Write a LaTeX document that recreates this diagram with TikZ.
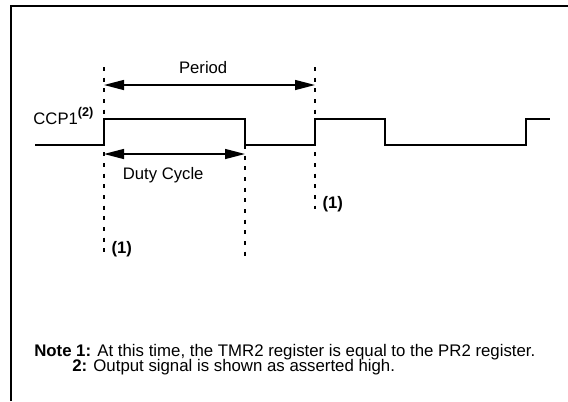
\documentclass[tikz,border=0pt]{standalone}
\usepackage{fontspec}
\setmainfont{Liberation Sans}
\usetikzlibrary{arrows.meta, positioning, calc}
\newcommand{\supmark}[1]{\raisebox{0.45em}{\fontsize{9.5}{10}\selectfont\bfseries #1}}
\tikzset{
  signal/.style={
    line width=1.5pt*0.75
  },
  marker/.style={
    dashed, dash pattern=on 3pt off 5pt,
    line width=1.3pt*0.75
  },
  dimarrow/.style={
    {Triangle[length=15pt, width=7.5pt]}-{Triangle[length=15pt, width=7.5pt]},
    line width=1.4pt*0.75
  },
  lbl/.style={
    font=\fontsize{12.5}{14}\selectfont,
    inner sep=1pt
  },
  marklbl/.style={
    lbl, anchor=west,
    font=\fontsize{12.5}{14}\selectfont\bfseries
  },
  notetext/.style={
    font=\fontsize{12.6}{14}\selectfont,
    inner sep=0pt, anchor=base west
  }
}
\begin{document}
\begin{tikzpicture}[x=0.75pt, y=-0.75pt]

%------------------------------------------------------
% FRAME
%------------------------------------------------------
\useasboundingbox (0,0) rectangle (568,401);
\draw[line width=1.6pt*0.75] (11,401) -- (11,6) -- (568,6);

%------------------------------------------------------
% MARKER LINES (dashed)
%------------------------------------------------------
\coordinate (riseTop)  at (104,67);
\coordinate (riseBot)  at (104,255);
\coordinate (fallTop)  at (245,145);
\coordinate (fallBot)  at (245,260);
\coordinate (nextTop)  at (315,67);
\coordinate (nextBot)  at (315,209);

\draw[marker] (riseTop) -- (riseBot);
\draw[marker] (fallTop) -- (fallBot);
\draw[marker] (nextTop) -- (nextBot);

%------------------------------------------------------
% CCP1 WAVEFORM
%------------------------------------------------------
\node[lbl, anchor=base east] (ccp) at (95,124) {CCP1\supmark{(2)}};
\draw[signal] (35,145) -- (104,145) -- (104,119) -- (245,119) -- (245,145)
  -- (315,145) -- (315,119) -- (385,119) -- (385,145) -- (526,145)
  -- (526,119) -- (550,119);

%------------------------------------------------------
% PERIOD / DUTY CYCLE
%------------------------------------------------------
\coordinate (perL) at (104,85);
\coordinate (perR) at (315,85);
\coordinate (dutL) at (104,154);
\coordinate (dutR) at (245,154);

\draw[dimarrow] (perL) -- (perR);
\node[lbl, above=7pt of $(perL)!0.47!(perR)$] (period) {Period};
\draw[dimarrow] (dutL) -- (dutR);
\node[lbl, below=9pt of $(dutL)!0.42!(dutR)$] (duty) {Duty Cycle};

%------------------------------------------------------
% NOTE MARKS
%------------------------------------------------------
\node[marklbl] (markA) at (110,249) {(1)};
\node[marklbl] (markB) at (321,204) {(1)};

%------------------------------------------------------
% NOTES
%------------------------------------------------------
\node[notetext] (note1) at (34,356) {\textbf{Note 1:} At this time, the TMR2 register is equal to the PR2 register.};
\node[notetext] (note2) at (72,371) {\textbf{2:} Output signal is shown as asserted high.};

\end{tikzpicture}
\end{document}
